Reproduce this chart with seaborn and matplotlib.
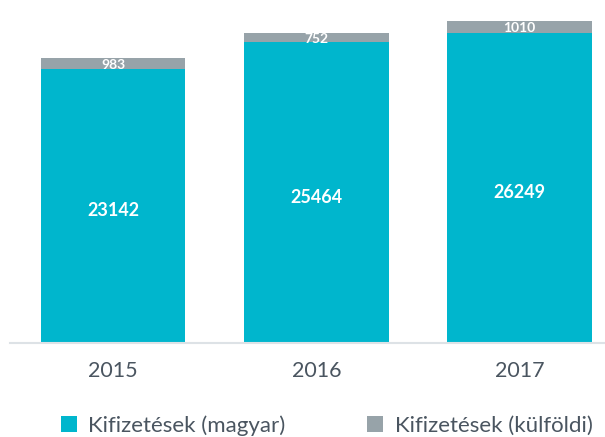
import matplotlib
matplotlib.use("Agg")
import matplotlib.pyplot as plt
import seaborn as sns
import numpy as np
import pandas as pd
from matplotlib.patches import Patch

years = ["2015", "2016", "2017"]
magyar = [23142, 25464, 26249]
kulfoldi = [983, 752, 1010]
series_names = ["Kifizetések (magyar)", "Kifizetések (külföldi)"]

cyan = "#00B6CD"
gray = "#97A3A9"

sns.set_theme(style="white")
plt.rcParams["font.family"] = ["Lato", "DejaVu Sans"]

df = pd.DataFrame({"year": years, "magyar": magyar, "kulfoldi": kulfoldi})
df["total"] = df["magyar"] + df["kulfoldi"]

fig = plt.figure(figsize=(6.05, 4.37), dpi=100)
ax = fig.add_axes([10 / 605, (437 - 343) / 437, 1 - 10 / 605, 343 / 437])

sns.barplot(data=df, x="year", y="total", color=gray, width=0.71,
            saturation=1, ax=ax, linewidth=0)
sns.barplot(data=df, x="year", y="magyar", color=cyan, width=0.71,
            saturation=1, ax=ax, linewidth=0)

ax.set_xlim(-0.507, 2.42)
ax.set_ylim(0, 29020)

for i, (m, k) in enumerate(zip(magyar, kulfoldi)):
    ax.text(i, m * 0.485, str(m), ha="center", va="center", color="white",
            fontsize=13, fontweight="bold")
    ax.text(i, m + k / 2, str(k), ha="center", va="center_baseline", color="white",
            fontsize=10, fontweight="bold")

ax.set_xlabel("")
ax.set_ylabel("")
ax.set_yticks([])
for s in ["top", "right", "left"]:
    ax.spines[s].set_visible(False)
ax.spines["bottom"].set_color("#dde2e6")
ax.spines["bottom"].set_linewidth(1.5)
ax.tick_params(axis="x", length=0, pad=13, labelsize=15.5, labelcolor="#4a5560")

handles = [Patch(facecolor=cyan, edgecolor="none"), Patch(facecolor=gray, edgecolor="none")]
fig.legend(handles, series_names, loc="center", bbox_to_anchor=(0.540, 0.026),
           ncol=2, frameon=False, fontsize=16, handlelength=0.72, handleheight=0.72,
           handletextpad=0.5, columnspacing=3.7, labelcolor="#4a5560",
           borderpad=0, borderaxespad=0)

fig.savefig("out.png", dpi=100)
